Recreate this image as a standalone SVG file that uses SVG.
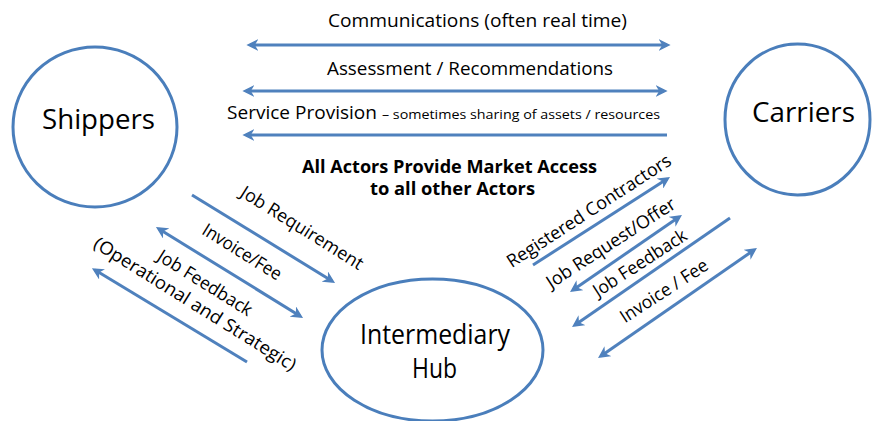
<svg xmlns="http://www.w3.org/2000/svg" width="872" height="421" viewBox="0 0 872 421">
  <style>
    .node { fill: #ffffff; stroke: #4A7EBB; stroke-width: 3; }
    .lbl { font-family: "Open Sans", "Liberation Sans", sans-serif; fill: #000000; }
    .big { font-size: 27px; text-anchor: middle; }
    .top { font-size: 18px; }
    .small { font-size: 13.5px; }
    .diag { font-size: 18px; text-anchor: middle; }
    .bold { font-size: 18px; font-weight: 700; text-anchor: middle; }
    .conn line { stroke: #4F81BD; stroke-width: 3; fill: none; }
    .e { marker-end: url(#ah); }
    .s { marker-start: url(#ah); }
  </style>
  <defs>
    <marker id="ah" viewBox="0 0 10 10" refX="7" refY="5" markerWidth="12" markerHeight="12" markerUnits="userSpaceOnUse" orient="auto-start-reverse">
      <path d="M0,0 L10,5 L0,10 L3,5 z" fill="#4F81BD"/>
    </marker>
  </defs>
  <rect width="872" height="421" fill="#ffffff"/>

  <g id="shippers">
    <ellipse class="node" cx="95" cy="127" rx="82" ry="80"/>
    <text class="lbl big" x="98.5" y="129" textLength="113" lengthAdjust="spacingAndGlyphs">Shippers</text>
  </g>
  <g id="carriers">
    <ellipse class="node" cx="797.5" cy="119.5" rx="72.5" ry="75.5"/>
    <text class="lbl big" x="803.5" y="122" textLength="103" lengthAdjust="spacingAndGlyphs">Carriers</text>
  </g>
  <g id="hub">
    <ellipse class="node" cx="432.5" cy="350" rx="110.5" ry="71"/>
    <text class="lbl big" x="435" y="344" font-size="23" textLength="150" lengthAdjust="spacingAndGlyphs">Intermediary</text>
    <text class="lbl big" x="434.5" y="378" font-size="23" textLength="45" lengthAdjust="spacingAndGlyphs">Hub</text>
  </g>

  <g id="connectors" class="conn">
    <line class="s e" x1="250" y1="45" x2="667" y2="45"/>
    <line class="s e" x1="246" y1="91" x2="664" y2="91"/>
    <line class="s" x1="246" y1="135" x2="667" y2="135"/>
    <line class="e" x1="192" y1="195" x2="332" y2="281"/>
    <line class="s e" x1="159" y1="229" x2="300" y2="316"/>
    <line class="e" x1="247" y1="362" x2="95" y2="270"/>
    <line class="e" x1="533" y1="265" x2="667" y2="179"/>
    <line class="s e" x1="573" y1="290" x2="679" y2="217"/>
    <line class="e" x1="730" y1="218" x2="575" y2="325"/>
    <line class="s e" x1="601" y1="356" x2="754" y2="250"/>
  </g>

  <g id="labels">
    <text class="lbl top" x="477.5" y="27" text-anchor="middle" textLength="299" lengthAdjust="spacingAndGlyphs">Communications (often real time)</text>
    <text class="lbl top" x="470" y="75" text-anchor="middle" textLength="286" lengthAdjust="spacingAndGlyphs">Assessment / Recommendations</text>
    <text class="lbl top" x="227" y="119" textLength="150" lengthAdjust="spacingAndGlyphs">Service Provision</text>
    <text class="lbl small" x="382" y="119" textLength="278" lengthAdjust="spacingAndGlyphs">– sometimes sharing of assets / resources</text>

    <text class="lbl bold" x="449.5" y="173" textLength="295" lengthAdjust="spacingAndGlyphs">All Actors Provide Market Access</text>
    <text class="lbl bold" x="452.5" y="195" textLength="165" lengthAdjust="spacingAndGlyphs">to all other Actors</text>

    <g transform="translate(302,228) rotate(32)"><text class="lbl diag" y="6" textLength="141" lengthAdjust="spacingAndGlyphs">Job Requirement</text></g>
    <g transform="translate(242,252) rotate(32)"><text class="lbl diag" y="6" textLength="90" lengthAdjust="spacingAndGlyphs">Invoice/Fee</text></g>
    <g transform="translate(205,283) rotate(32)"><text class="lbl diag" y="6" textLength="108" lengthAdjust="spacingAndGlyphs">Job Feedback</text></g>
    <g transform="translate(195,304) rotate(32)"><text class="lbl diag" y="6" textLength="235" lengthAdjust="spacingAndGlyphs">(Operational and Strategic)</text></g>

    <g transform="translate(589,211) rotate(-33)"><text class="lbl diag" y="6" textLength="192" lengthAdjust="spacingAndGlyphs">Registered Contractors</text></g>
    <g transform="translate(611,243) rotate(-33)"><text class="lbl diag" y="6" textLength="150" lengthAdjust="spacingAndGlyphs">Job Request/Offer</text></g>
    <g transform="translate(640,263) rotate(-33)"><text class="lbl diag" y="6" textLength="108" lengthAdjust="spacingAndGlyphs">Job Feedback</text></g>
    <g transform="translate(664,291) rotate(-33)"><text class="lbl diag" y="6" textLength="101" lengthAdjust="spacingAndGlyphs">Invoice / Fee</text></g>
  </g>
</svg>
